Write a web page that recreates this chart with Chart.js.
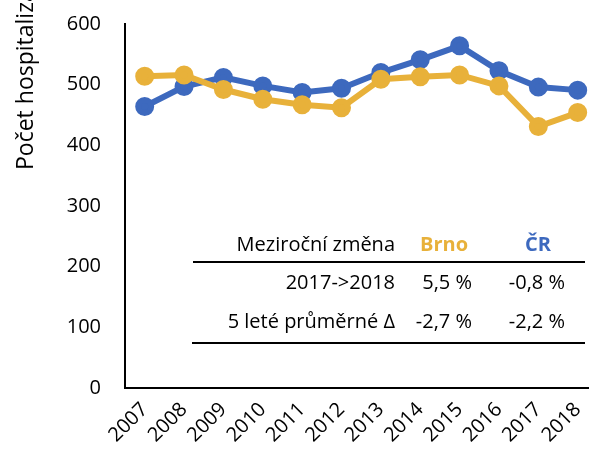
<!DOCTYPE html>
<html>
<head>
<meta charset="utf-8">
<script src="https://cdn.jsdelivr.net/npm/chart.js@4"></script>
<style>
  html, body { margin: 0; padding: 0; background: #fff; overflow: hidden; }
  /* a bit wider than the window: the original is cropped at the right edge */
  #wrap { width: 602px; height: 451px; }
</style>
</head>
<body>
<div id="wrap"><canvas id="chart"></canvas></div>
<script>
const years = [2007, 2008, 2009, 2010, 2011, 2012, 2013, 2014, 2015, 2016, 2017, 2018];
const brno = [514, 516, 492, 476, 467, 462, 509, 513, 516, 498, 431, 454];
const cr = [464, 497, 512, 498, 487, 494, 520, 541, 564, 523, 496, 491];
const yTicks = [0, 100, 200, 300, 400, 500, 600];

const tableHeader = ['Meziroční změna', 'Brno', 'ČR'];
const tableRows = [
    ['2017->2018', '5,5 %', '-0,8 %'],
    ['5 leté průměrné Δ', '-2,7 %', '-2,2 %']
];

const ORANGE = '#E8B13A';
const BLUE = '#3D69BE';
const FONT = '"Open Sans", "DejaVu Sans", sans-serif';

// y axis title and the little summary table drawn on the canvas
const overlay = {
    id: 'overlay',
    afterDraw(chart) {
        const ctx = chart.ctx;
        ctx.save();
        // axis title, cut off at the top like the original
        ctx.translate(33, 170);
        ctx.rotate(-Math.PI / 2);
        ctx.fillStyle = '#000';
        ctx.font = '23px ' + FONT;
        ctx.textAlign = 'left';
        ctx.textBaseline = 'alphabetic';
        ctx.fillText('Počet hospitalizací na 100 tis. obyvatel', 0, 0);
        ctx.restore();

        ctx.save();
        ctx.font = '20px ' + FONT;
        ctx.textBaseline = 'middle';
        ctx.textAlign = 'right';
        ctx.fillStyle = '#000';
        ctx.fillText(tableHeader[0], 395, 245);
        ctx.textAlign = 'center';
        ctx.font = 'bold 20px ' + FONT;
        ctx.fillStyle = ORANGE;
        ctx.fillText(tableHeader[1], 444, 245);
        ctx.fillStyle = BLUE;
        ctx.fillText(tableHeader[2], 538, 245);

        ctx.font = '20px ' + FONT;
        ctx.fillStyle = '#000';
        const rowY = [283, 322];
        tableRows.forEach((row, i) => {
            ctx.textAlign = 'right';
            ctx.fillText(row[0], 395, rowY[i]);
            ctx.fillText(row[1], 472, rowY[i]);
            ctx.fillText(row[2], 565, rowY[i]);
        });

        ctx.strokeStyle = '#000';
        ctx.lineWidth = 2;
        ctx.beginPath();
        ctx.moveTo(193, 262);
        ctx.lineTo(585, 262);
        ctx.moveTo(192, 343);
        ctx.lineTo(585, 343);
        ctx.stroke();
        ctx.restore();
    }
};

function series(values, color) {
    return {
        data: years.map((y, i) => ({ x: y, y: values[i] })),
        borderColor: color,
        backgroundColor: color,
        pointBackgroundColor: color,
        pointBorderColor: color,
        borderWidth: 6,
        pointRadius: 6.5,
        tension: 0,
        clip: false
    };
}

new Chart(document.getElementById('chart'), {
    type: 'line',
    data: {
        datasets: [series(brno, ORANGE), series(cr, BLUE)]
    },
    options: {
        responsive: true,
        maintainAspectRatio: false,
        animation: false,
        layout: { padding: { top: 24, right: 0, left: 0, bottom: 0 } },
        plugins: {
            legend: { display: false },
            tooltip: { enabled: false }
        },
        scales: {
            x: {
                type: 'linear',
                min: 2006.5,
                max: 2018.3,
                afterBuildTicks: s => { s.ticks = years.map(v => ({ value: v })); },
                afterFit: s => { s.height = 63; s.paddingLeft = 0; s.paddingRight = 0; },
                grid: { display: false, drawTicks: false },
                border: { display: true, color: '#000', width: 2 },
                ticks: {
                    minRotation: 45,
                    maxRotation: 45,
                    padding: 10,
                    color: '#000',
                    font: { family: FONT, size: 20 },
                    callback: v => String(v)
                }
            },
            y: {
                min: 0,
                max: 600,
                afterBuildTicks: s => { s.ticks = yTicks.map(v => ({ value: v })); },
                afterFit: s => { s.width = 125; s.paddingTop = 0; s.paddingBottom = 0; },
                grid: { display: false, drawTicks: false },
                border: { display: true, color: '#000', width: 2 },
                ticks: {
                    padding: 24,
                    color: '#000',
                    font: { family: FONT, size: 20 }
                }
            }
        }
    },
    plugins: [overlay]
});
</script>
</body>
</html>
